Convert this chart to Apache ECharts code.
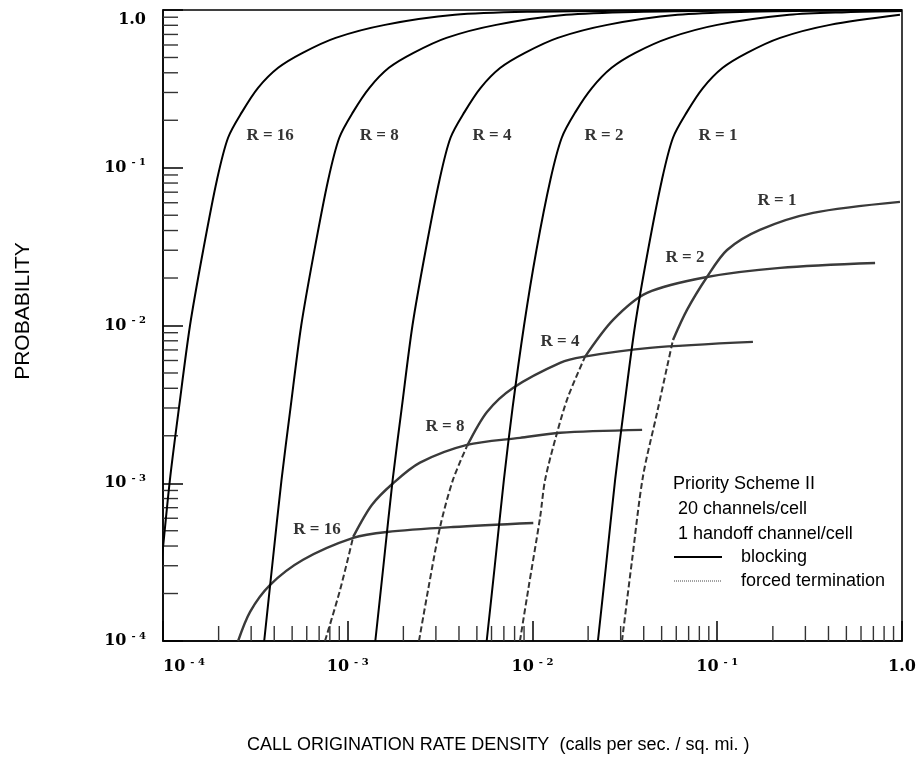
<!DOCTYPE html>
<html>
<head>
<meta charset="utf-8">
<title>Priority Scheme II - blocking and forced termination</title>
<script src="https://cdn.jsdelivr.net/npm/echarts@6/dist/echarts.min.js"></script>
<style>
  html, body { margin: 0; padding: 0; background: #fff; }
  #main { width: 924px; height: 763px; }
</style>
</head>
<body>
<div id="main"></div>
<script>
var X_MIN = 1e-4, X_MAX = 1, Y_MIN = 1e-4, Y_MAX = 1;

// blocking probability vs call origination rate density, one curve per R
var blockingR16 = [[0.000088,1e-4],[0.0000977,3e-4],[0.000109,1.05e-3],[0.000122,3e-3],[0.00014,0.01],[0.000165,0.03],[0.000196,0.084],[0.000225,0.155],[0.000268,0.226],[0.000327,0.321],[0.00042,0.43],[0.00057,0.535],[0.00086,0.666],[0.00159,0.805],[0.0038,0.932],[0.01,0.975],[0.05,0.994],[1.0,1.0]];
var blockingR8 = [[0.000353,1e-4],[0.00039,3e-4],[0.000438,1.05e-3],[0.00049,3e-3],[0.00056,0.01],[0.00066,0.03],[0.000784,0.084],[0.0009,0.155],[0.00107,0.226],[0.00131,0.321],[0.00167,0.43],[0.00227,0.535],[0.00342,0.666],[0.00636,0.805],[0.0152,0.932],[0.04,0.975],[0.15,0.993],[1.0,0.999]];
var blockingR4 = [[0.00141,1e-4],[0.00156,3e-4],[0.00175,1.05e-3],[0.00196,3e-3],[0.00224,0.01],[0.00264,0.03],[0.00314,0.084],[0.0036,0.155],[0.00429,0.226],[0.00524,0.321],[0.0067,0.43],[0.0091,0.535],[0.0137,0.666],[0.0254,0.805],[0.061,0.932],[0.15,0.975],[0.4,0.99],[1.0,0.996]];
var blockingR2 = [[0.00565,1e-4],[0.00625,3e-4],[0.007,1.05e-3],[0.0078,3e-3],[0.009,0.01],[0.0105,0.03],[0.0125,0.084],[0.0144,0.155],[0.0171,0.226],[0.021,0.321],[0.0268,0.43],[0.036,0.535],[0.055,0.666],[0.10,0.805],[0.245,0.932],[0.5,0.968],[1.0,0.984]];
var blockingR1 = [[0.0226,1e-4],[0.025,3e-4],[0.028,1.05e-3],[0.0313,3e-3],[0.0359,0.01],[0.0422,0.03],[0.0502,0.084],[0.0576,0.155],[0.0686,0.226],[0.0838,0.321],[0.107,0.43],[0.145,0.535],[0.219,0.666],[0.407,0.805],[0.975,0.932]];

// forced termination probability: lower part dashed, upper part solid
var forcedR16 = [[2.55e-4,1e-4],[2.96e-4,1.53e-4],[3.79e-4,2.26e-4],[5.73e-4,3.27e-4],[1.07e-3,4.5e-4],[1.63e-3,4.91e-4],[3.71e-3,5.28e-4],[0.0101,5.6e-4]];
var forcedR8Low = [[7.53e-4,1e-4],[9.08e-4,2.1e-4],[1.07e-3,4.57e-4]];
var forcedR8 = [[1.07e-3,4.57e-4],[1.35e-3,7.28e-4],[1.76e-3,1.0e-3],[2.46e-3,1.35e-3],[4.42e-3,1.75e-3],[8.55e-3,1.94e-3],[0.0141,2.09e-3],[0.0392,2.18e-3]];
var forcedR4Low = [[2.43e-3,1e-4],[2.72e-3,2.1e-4],[3.16e-3,5.28e-4],[3.71e-3,1.05e-3],[4.42e-3,1.72e-3]];
var forcedR4 = [[4.42e-3,1.72e-3],[5.67e-3,2.83e-3],[7.84e-3,4.02e-3],[0.0141,5.8e-3],[0.01875,6.33e-3],[0.0432,7.21e-3],[0.156,7.87e-3]];
var forcedR2Low = [[8.55e-3,1e-4],[9.47e-3,2.1e-4],[0.011,6.11e-4],[0.0117,1.05e-3],[0.01358,2.09e-3],[0.01556,3.52e-3],[0.01923,6.33e-3]];
var forcedR2 = [[0.01923,6.33e-3],[0.0273,0.01085],[0.0417,0.0161],[0.088,0.0203],[0.219,0.0232],[0.715,0.0249]];
var forcedR1Low = [[0.0305,1e-4],[0.0346,3.27e-4],[0.0396,1.1e-3],[0.0472,2.79e-3],[0.0535,5.46e-3],[0.0576,8.1e-3]];
var forcedR1 = [[0.0576,8.1e-3],[0.0686,0.01256],[0.088,0.0203],[0.113,0.0301],[0.17,0.0404],[0.33,0.0518],[0.975,0.0608]];

// curve labels [x, y, text]
var blockingLabels = [[3.8e-4,0.159,'R = 16'],[1.48e-3,0.159,'R = 8'],[6.04e-3,0.159,'R = 4'],[0.0244,0.159,'R = 2'],[0.101,0.159,'R = 1']];
var forcedLabels = [[6.82e-4,5.06e-4,'R = 16'],[3.36e-3,2.28e-3,'R = 8'],[0.0141,7.87e-3,'R = 4'],[0.0669,0.0268,'R = 2'],[0.2106,0.0617,'R = 1']];

// minor tick marks inside each decade
var minorSteps = [2, 3, 4, 5, 6, 7, 8, 9];
var decades = [1e-4, 1e-3, 1e-2, 1e-1];

var minorValues = [];
decades.forEach(function (d) {
  minorSteps.forEach(function (m) { minorValues.push(d * m); });
});

var chartDom = document.getElementById('main');
var myChart = echarts.init(chartDom);

var serifLabel = {
  b: { fontFamily: 'DejaVu Serif', fontWeight: 'bold', fontSize: 16, color: '#000', lineHeight: 20 },
  s: { fontFamily: 'DejaVu Serif', fontWeight: 'bold', fontSize: 10, color: '#000', verticalAlign: 'top', padding: [0, 0, 0, 5] }
};

function powLabel(v) {
  if (v >= 0.999) return '{b|1.0}';
  var e = Math.round(Math.log10(v));
  return '{b|10}{s|- ' + (-e) + '}';
}

function blockingLine(data) {
  return {
    type: 'line', name: 'blocking', data: data, symbol: 'none', smooth: 0.3,
    itemStyle: { color: '#000' },
    lineStyle: { color: '#000', width: 2 }, silent: true, z: 4
  };
}

function forcedLine(data, dashed) {
  return {
    type: 'line', name: 'forced termination', data: data, symbol: 'none', smooth: 0.3,
    itemStyle: { color: '#3a3a3a' },
    lineStyle: dashed ? { color: '#333', width: 2, type: [6, 3] } : { color: '#3a3a3a', width: 2.4 },
    silent: true, z: 3
  };
}

function labelSeries(list) {
  return {
    type: 'scatter', silent: true, z: 6, symbolSize: 1,
    itemStyle: { color: 'rgba(0,0,0,0)' },
    data: list.map(function (l) { return { value: [l[0], l[1]], name: l[2] }; }),
    label: {
      show: true, position: 'inside', formatter: '{b}', color: '#000',
      fontFamily: 'Liberation Serif', fontWeight: 'bold', fontSize: 17
    }
  };
}

function minorTickSeries(horizontal) {
  return {
    type: 'custom', silent: true, z: 2, clip: false,
    data: minorValues.map(function (v) { return horizontal ? [v, Y_MIN] : [X_MIN, v]; }),
    renderItem: function (params, api) {
      var p = api.coord([api.value(0), api.value(1)]);
      var shape = horizontal
        ? { x1: p[0], y1: p[1], x2: p[0], y2: p[1] - 15 }
        : { x1: p[0], y1: p[1], x2: p[0] + 15, y2: p[1] };
      return { type: 'line', shape: shape, style: { stroke: '#333', lineWidth: 1.4 } };
    }
  };
}

var option = {
  animation: false,
  grid: { left: 163, right: 22, top: 10, bottom: 122, show: true, borderColor: '#000', borderWidth: 1.5 },
  title: {
    text: 'Priority Scheme II\n 20 channels/cell\n 1 handoff channel/cell',
    left: 668, top: 467,
    textStyle: { fontFamily: 'Liberation Sans', fontWeight: 'normal', fontSize: 18, lineHeight: 25, color: '#000' }
  },
  legend: {
    left: 668, top: 543, orient: 'vertical', itemWidth: 48, itemHeight: 14, itemGap: 6,
    selectedMode: false,
    itemStyle: { opacity: 0 },
    textStyle: { fontFamily: 'Liberation Sans', fontSize: 18, color: '#000', padding: [0, 0, 0, 14] },
    data: [
      { name: 'blocking', itemStyle: { opacity: 0 }, lineStyle: { color: '#000', width: 2, type: 'solid' } },
      { name: 'forced termination', itemStyle: { opacity: 0 }, lineStyle: { color: '#444', width: 1, type: 'dotted' } }
    ]
  },
  xAxis: {
    type: 'log', logBase: 10, min: X_MIN, max: X_MAX,
    axisLine: { lineStyle: { color: '#000', width: 1.5 } },
    axisTick: { inside: true, length: 20, lineStyle: { color: '#000', width: 1.5 } },
    splitLine: { show: false },
    axisLabel: { margin: 16, formatter: powLabel, rich: serifLabel, alignMinLabel: 'left' }
  },
  yAxis: {
    type: 'log', logBase: 10, min: Y_MIN, max: Y_MAX,
    axisLine: { lineStyle: { color: '#000', width: 1.5 } },
    axisTick: { inside: true, length: 20, lineStyle: { color: '#000', width: 1.5 } },
    splitLine: { show: false },
    axisLabel: { margin: 17, formatter: powLabel, rich: serifLabel, verticalAlignMaxLabel: 'top' }
  },
  graphic: [
    {
      type: 'text', x: 23, y: 311, rotation: Math.PI / 2,
      style: { text: 'PROBABILITY', fontFamily: 'Liberation Sans', fontSize: 21, fill: '#000', align: 'center', verticalAlign: 'middle' }
    },
    {
      type: 'text', x: 247, y: 745,
      style: { text: 'CALL ORIGINATION RATE DENSITY  (calls per sec. / sq. mi. )', fontFamily: 'Liberation Sans', fontSize: 18, fill: '#000', align: 'left', verticalAlign: 'middle' }
    }
  ],
  series: [
    blockingLine(blockingR16),
    blockingLine(blockingR8),
    blockingLine(blockingR4),
    blockingLine(blockingR2),
    blockingLine(blockingR1),
    forcedLine(forcedR16, false),
    forcedLine(forcedR8Low, true),
    forcedLine(forcedR8, false),
    forcedLine(forcedR4Low, true),
    forcedLine(forcedR4, false),
    forcedLine(forcedR2Low, true),
    forcedLine(forcedR2, false),
    forcedLine(forcedR1Low, true),
    forcedLine(forcedR1, false),
    labelSeries(blockingLabels),
    labelSeries(forcedLabels),
    minorTickSeries(true),
    minorTickSeries(false)
  ]
};

option && myChart.setOption(option);
</script>
</body>
</html>
